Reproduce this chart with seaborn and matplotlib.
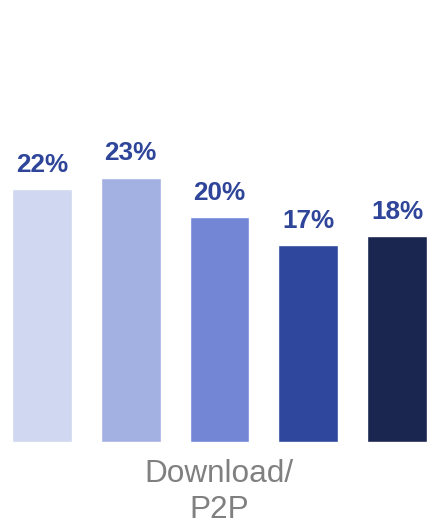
import matplotlib
matplotlib.use("Agg")
import matplotlib.pyplot as plt
import seaborn as sns
import pandas as pd

categories = ["Group 1", "Group 2", "Group 3", "Group 4", "Group 5"]
values = [22.0, 23.0, 19.6, 17.1, 17.9]
value_labels = ["22%", "23%", "20%", "17%", "18%"]
colors = ["#D0D7F0", "#A3B0E2", "#7386D5", "#2F479D", "#1A2550"]
axis_label_lines = ["Download/", "P2P"]

sns.set_style("white")
plt.rcParams["font.family"] = ["Liberation Sans", "DejaVu Sans"]

df = pd.DataFrame({"cat": categories, "val": values})

W, H = 431, 525
fig = plt.figure(figsize=(W / 100, H / 100), dpi=100)
ax_left, ax_right = 12, 427
ax_bottom = 83
ax = fig.add_axes([ax_left / W, ax_bottom / H, (ax_right - ax_left) / W, (H - ax_bottom) / H])

sns.barplot(data=df, x="cat", y="val", hue="cat", palette=colors, width=0.676,
            legend=False, ax=ax, saturation=1)
ax.set_xlim(-0.338, 4.338)
ax.set_ylim(0, (H - ax_bottom) / 11.5)
ax.axis("off")

for i, (v, lab) in enumerate(zip(values, value_labels)):
    ax.annotate(lab, (i, v), xytext=(0, 17 * 72 / 100), textcoords="offset points",
                ha="center", va="baseline", fontsize=18.8, fontweight="bold",
                color="#2E4599")

xc = 219 / W
fig.text(xc, 43 / H, axis_label_lines[0], ha="center", va="baseline",
         fontsize=22.7, color="#808080")
fig.text(xc, 7.5 / H, axis_label_lines[1], ha="center", va="baseline",
         fontsize=22.7, color="#808080")

fig.savefig("out.png", dpi=100)
